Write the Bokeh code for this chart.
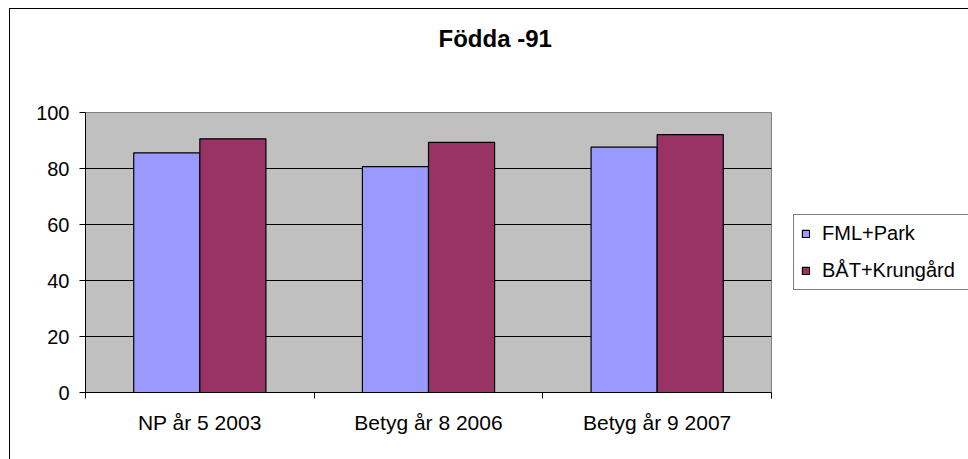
import numpy as np
from bokeh.plotting import figure
from bokeh.models import (Range1d, LinearAxis, FixedTicker, Legend, LegendItem, Grid, Title)
from bokeh.embed import file_html
from bokeh.resources import INLINE

categories = ["NP år 5 2003", "Betyg år 8 2006", "Betyg år 9 2007"]
series_names = ["FML+Park", "BÅT+Krungård"]
fml_park = [85.6, 80.7, 87.6]
bat_krungard = [90.6, 89.3, 92.1]
y_ticks = [0, 20, 40, 60, 80, 100]
colors = ["#9999FF", "#993366"]

FONT = "Liberation Sans"

p = figure(frame_width=686, frame_height=280,
           min_border_left=85, min_border_right=197,
           min_border_top=112, min_border_bottom=67,
           x_range=Range1d(0, len(categories)), y_range=Range1d(0, 100),
           x_axis_type=None, y_axis_type=None,
           output_backend="svg", toolbar_location=None)
p.styles = {
    "background-image": "linear-gradient(black, black), linear-gradient(black, black)",
    "background-size": "1px 100%, 100% 1px",
    "background-position": "9px 8px, 9px 8px",
    "background-repeat": "no-repeat",
}
p.background_fill_color = "#C0C0C0"
p.border_fill_color = None
p.outline_line_color = "#808080"
p.outline_line_width = 1

# spacer between frame and title (closest to frame)
spacer = Title(text=" ", text_font_size="1px", standoff=58)
p.add_layout(spacer, "above")

title = Title(text="Födda -91", text_font=FONT, text_font_size="24px",
              text_font_style="bold", text_color="black",
              align="left", offset=353, standoff=0)
p.add_layout(title, "above")

# y axis
yaxis = LinearAxis(ticker=FixedTicker(ticks=y_ticks))
yaxis.major_label_text_font = FONT
yaxis.major_label_text_font_size = "20px"
yaxis.major_label_text_color = "black"
yaxis.major_tick_out = 6
yaxis.major_tick_in = 0
yaxis.minor_tick_line_color = None
yaxis.axis_line_color = "black"
yaxis.major_tick_line_color = "black"
yaxis.major_label_standoff = 10
p.add_layout(yaxis, "left")

grid = Grid(dimension=1, ticker=FixedTicker(ticks=y_ticks[1:-1]))
grid.grid_line_color = "black"
grid.grid_line_width = 1
p.add_layout(grid)

# x tick axis (category boundaries)
n = len(categories)
tick_axis = LinearAxis(ticker=FixedTicker(ticks=list(range(n + 1))))
tick_axis.major_label_text_font_size = "0px"
tick_axis.major_label_text_alpha = 0
tick_axis.major_tick_out = 6
tick_axis.major_tick_in = 0
tick_axis.minor_tick_line_color = None
tick_axis.axis_line_color = "black"
tick_axis.major_tick_line_color = "black"
tick_axis.major_label_standoff = 0
p.add_layout(tick_axis, "below")

centers = [i + 0.5 for i in range(n)]
label_axis = LinearAxis(ticker=FixedTicker(ticks=centers))
label_axis.major_label_overrides = {c: cat for c, cat in zip(centers, categories)}
label_axis.major_label_text_font = FONT
label_axis.major_label_text_font_size = "21px"
label_axis.major_label_text_color = "black"
label_axis.axis_line_color = None
label_axis.major_tick_line_color = None
label_axis.minor_tick_line_color = None
label_axis.major_tick_out = 0
label_axis.major_tick_in = 0
label_axis.major_label_standoff = 12
p.add_layout(label_axis, "below")

bw = 0.289
x_blue = [c - bw / 2 for c in centers]
x_red = [c + bw / 2 for c in centers]
r1 = p.vbar(x=x_blue, top=fml_park, width=bw, fill_color=colors[0],
            line_color="black", line_width=1.2)
r2 = p.vbar(x=x_red, top=bat_krungard, width=bw, fill_color=colors[1],
            line_color="black", line_width=1.2)

legend = Legend(items=[LegendItem(label=series_names[0], renderers=[r1]),
                       LegendItem(label=series_names[1], renderers=[r2])],
                location=(22, 102))
legend.label_text_font = FONT
legend.label_text_font_size = "20px"
legend.label_text_color = "black"
legend.glyph_width = 9
legend.glyph_height = 9
legend.label_height = 20
legend.label_width = 140
legend.label_standoff = 12
legend.spacing = 14
legend.padding = 7
legend.margin = 0
legend.border_line_color = "black"
legend.border_line_width = 1
legend.background_fill_color = "white"
legend.background_fill_alpha = 1
p.add_layout(legend, "right")

open("out.html", "w").write(file_html(p, INLINE))
